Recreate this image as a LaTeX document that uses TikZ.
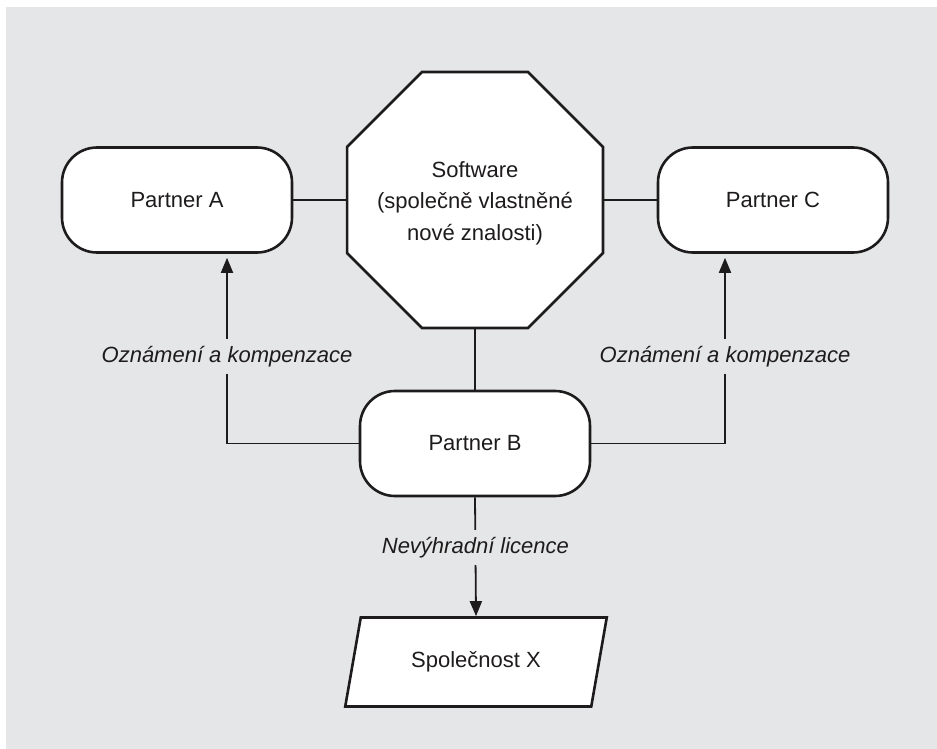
\documentclass[tikz,border=0pt]{standalone}
\usepackage{fontspec}
\setmainfont{Liberation Sans}
\usetikzlibrary{shapes.geometric,arrows.meta}
\definecolor{bg}{HTML}{E5E6E7}
\definecolor{ink}{HTML}{1E1B1C}

\begin{document}
\begin{tikzpicture}[x=1pt,y=-1pt,
  every node/.style={text=ink, font=\fontsize{22}{32}\selectfont},
  partner/.style={draw=ink, line width=2.6pt, fill=white, rectangle,
    rounded corners=35pt, minimum width=230pt, minimum height=105pt},
  octa/.style={draw=ink, line width=2.6pt, fill=white, regular polygon,
    regular polygon sides=8, minimum size=277pt, inner sep=0pt},
  company/.style={draw=ink, line width=2.6pt, fill=white, trapezium,
    trapezium left angle=71.4, trapezium right angle=108.6,
    trapezium stretches=true, minimum width=262pt, minimum height=89pt},
  link/.style={draw=ink, line width=1.8pt},
  flow/.style={link, -{Triangle[length=15pt,width=12pt]}},
  tag/.style={fill=bg, inner xsep=2pt, inner ysep=7pt,
    font=\fontsize{22}{32}\selectfont\itshape}
]
  % backdrop
  \fill[white] (0,0) rectangle (937,749);
  \fill[bg] (6,7) rectangle (937,749);
  \useasboundingbox (0,0) rectangle (937,749);

  % nodes
  \node[octa] (S) at (475,200) {};
  \node[align=center, font=\fontsize{22}{31.5}\selectfont] (St) at (475,203)
    {Software\\(společně vlastněné\\nové znalosti)};
  \node[partner] (A) at (177,200) {Partner A};
  \node[partner] (C) at (773,200) {Partner C};
  \node[partner] (B) at (475,443.5) {Partner B};
  \node[company] (X) at (476,662) {Společnost X};

  % plain links
  \draw[link] (A) -- (S);
  \draw[link] (S) -- (C);
  \draw[link] (S) -- (B);

  % notices and compensation
  \draw[flow, shorten >=4pt] (B.west) -| ([xshift=50pt]A.south)
    node[tag, pos=0.73] {Oznámení a kompenzace};
  \draw[flow, shorten >=4pt] (B.east) -| ([xshift=-48pt]C.south)
    node[tag, pos=0.73] {Oznámení a kompenzace};

  % licence
  \draw[flow] (B.south) -- (X.north)
    node[tag, pos=0.42] {Nevýhradní licence};
\end{tikzpicture}
\end{document}
